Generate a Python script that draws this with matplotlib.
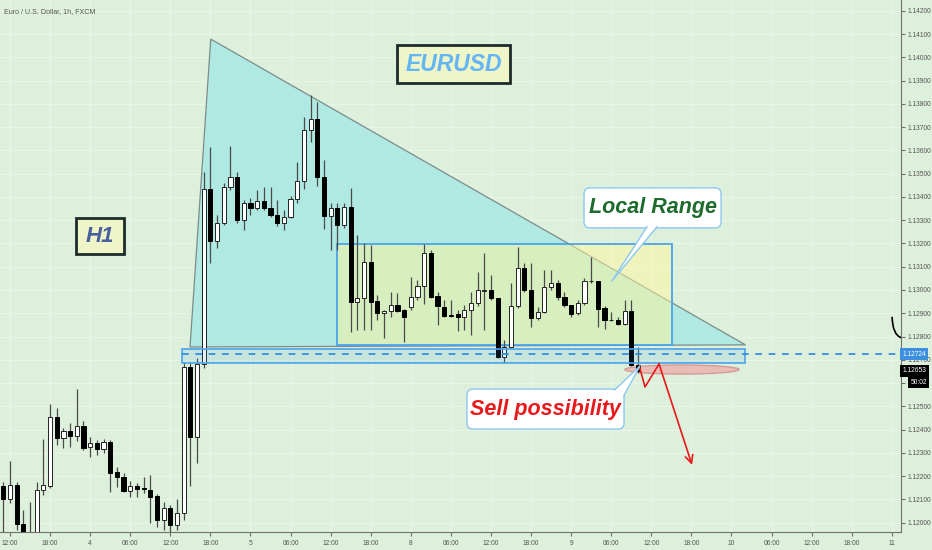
import numpy as np
import matplotlib.pyplot as plt
from matplotlib.patches import Polygon, Rectangle, Ellipse, FancyBboxPatch, PathPatch
from matplotlib.path import Path

plt.rcParams['font.family'] = ['Liberation Sans', 'DejaVu Sans']

# EURUSD 1h candles, first candle is one hour before the "12:00" tick of day 3
start_hour = -1
opens = [1.12157, 1.12101, 1.12161, 1.11994, 1.11870, 1.11920, 1.12140, 1.12157, 1.12454, 1.12363,
         1.12394, 1.12372, 1.12415, 1.12325, 1.12342, 1.12316, 1.12346, 1.12217, 1.12196, 1.12136,
         1.12157, 1.12149, 1.12140, 1.12114, 1.12011, 1.12063, 1.11990, 1.12041, 1.12669, 1.12368,
         1.12682, 1.13434, 1.13211, 1.13288, 1.13443, 1.13486, 1.13301, 1.13374, 1.13353, 1.13383,
         1.13353, 1.13322, 1.13288, 1.13314, 1.13391, 1.13469, 1.13688, 1.13735, 1.13486, 1.13318,
         1.13353, 1.13280, 1.13357, 1.12948, 1.12966, 1.13121, 1.12953, 1.12901, 1.12910, 1.12936,
         1.12914, 1.12927, 1.12970, 1.13017, 1.13159, 1.12974, 1.12927, 1.12892, 1.12897, 1.12884,
         1.12914, 1.12944, 1.12996, 1.13000, 1.12966, 1.12712, 1.12755, 1.12931, 1.13095, 1.13000,
         1.12880, 1.12906, 1.13013, 1.13030, 1.12970, 1.12936, 1.12901, 1.12944, 1.13039, 1.13039,
         1.12923, 1.12871, 1.12871, 1.12854, 1.12910, 1.12677]
highs = [1.12174, 1.12265, 1.12174, 1.12054, 1.12088, 1.12174, 1.12359, 1.12510, 1.12493, 1.12406,
         1.12428, 1.12574, 1.12437, 1.12368, 1.12355, 1.12359, 1.12355, 1.12239, 1.12213, 1.12178,
         1.12170, 1.12196, 1.12204, 1.12123, 1.12088, 1.12075, 1.12101, 1.12691, 1.12691, 1.12708,
         1.13507, 1.13615, 1.13322, 1.13460, 1.13619, 1.13507, 1.13387, 1.13396, 1.13430, 1.13443,
         1.13443, 1.13387, 1.13344, 1.13404, 1.13550, 1.13744, 1.13838, 1.13808, 1.13559, 1.13374,
         1.13374, 1.13374, 1.13439, 1.13237, 1.13202, 1.13194, 1.12979, 1.12914, 1.12991, 1.12987,
         1.12918, 1.13056, 1.13043, 1.13198, 1.13170, 1.12991, 1.12957, 1.12957, 1.12914, 1.12936,
         1.12991, 1.13077, 1.13159, 1.13064, 1.12966, 1.12785, 1.13030, 1.13185, 1.13116, 1.13116,
         1.12927, 1.13086, 1.13086, 1.13043, 1.12991, 1.12936, 1.12957, 1.13052, 1.13142, 1.13039,
         1.12931, 1.12906, 1.12884, 1.12957, 1.12957, 1.12755]
lows = [1.11947, 1.12084, 1.11968, 1.11880, 1.11850, 1.11900, 1.12118, 1.12149, 1.12334, 1.12321,
        1.12325, 1.12351, 1.12312, 1.12282, 1.12291, 1.12299, 1.12131, 1.12153, 1.12131, 1.12110,
        1.12110, 1.12127, 1.12000, 1.11981, 1.11968, 1.11947, 1.11968, 1.12011, 1.12157, 1.12256,
        1.12665, 1.13116, 1.13181, 1.13280, 1.13430, 1.13288, 1.13258, 1.13322, 1.13344, 1.13344,
        1.13314, 1.13275, 1.13258, 1.13310, 1.13374, 1.13434, 1.13636, 1.13447, 1.13262, 1.13172,
        1.13172, 1.13267, 1.12819, 1.12828, 1.12828, 1.12828, 1.12870, 1.12794, 1.12884, 1.12906,
        1.12776, 1.12914, 1.12957, 1.12940, 1.12966, 1.12849, 1.12884, 1.12884, 1.12824, 1.12828,
        1.12807, 1.12931, 1.12828, 1.12957, 1.12708, 1.12686, 1.12751, 1.12923, 1.12991, 1.12841,
        1.12871, 1.12901, 1.13000, 1.12957, 1.12927, 1.12884, 1.12892, 1.12936, 1.13030, 1.12841,
        1.12832, 1.12866, 1.12849, 1.12849, 1.12673, 1.12645]
closes = [1.12101, 1.12161, 1.11994, 1.11903, 1.11940, 1.12140, 1.12161, 1.12454, 1.12363, 1.12394,
          1.12372, 1.12415, 1.12321, 1.12342, 1.12316, 1.12346, 1.12213, 1.12196, 1.12136, 1.12157,
          1.12144, 1.12144, 1.12110, 1.12011, 1.12063, 1.11990, 1.12041, 1.12669, 1.12368, 1.12682,
          1.13434, 1.13211, 1.13288, 1.13443, 1.13486, 1.13301, 1.13374, 1.13353, 1.13383, 1.13353,
          1.13322, 1.13288, 1.13314, 1.13391, 1.13469, 1.13688, 1.13735, 1.13486, 1.13318, 1.13353,
          1.13280, 1.13357, 1.12948, 1.12966, 1.13121, 1.12948, 1.12901, 1.12910, 1.12936, 1.12910,
          1.12884, 1.12970, 1.13017, 1.13159, 1.12970, 1.12931, 1.12888, 1.12888, 1.12884, 1.12914,
          1.12944, 1.13000, 1.13000, 1.12966, 1.12712, 1.12755, 1.12931, 1.13095, 1.13000, 1.12880,
          1.12906, 1.13013, 1.13030, 1.12970, 1.12936, 1.12897, 1.12944, 1.13039, 1.13039, 1.12918,
          1.12871, 1.12871, 1.12854, 1.12910, 1.12677, 1.12653]

tick_hours = list(range(0, 133, 6))
tick_labels = ['12:00', '18:00', '4', '06:00', '12:00', '18:00', '5', '06:00', '12:00', '18:00',
               '8', '06:00', '12:00', '18:00', '9', '06:00', '12:00', '18:00', '10', '06:00',
               '12:00', '18:00', '11']
price_ticks = [1.120 + 0.001 * i for i in range(23)]

# drawings (hour, price)
triangle = [(26.95, 1.12755), (30.05, 1.14079), (110.1, 1.12764)]
range_box = (48.95, 1.12764, 99.1, 1.13198)
support_box = (25.75, 1.12686, 110.1, 1.12746)
support_level = 1.12724
current_price = 1.12653
red_path_h = [94.2, 95.06, 97.16]
red_path_p = [1.12673, 1.12583, 1.12682]
arrow_end = (102.1, 1.12248)
oval = (100.6, 1.12658, 17.1, 0.00039)

bg = '#ddf0db'
fig = plt.figure(figsize=(9.32, 5.5), dpi=100, facecolor=bg)
ax = fig.add_axes([0, 18 / 550, 901 / 932, 532 / 550], facecolor=bg)
ax.set_xlim(-1.497, 133.38)
ax.set_ylim(1.119594, 1.14247)

ax.grid(color='#e9f6e7', lw=0.9, zorder=0)
ax.set_axisbelow(True)

ax.add_patch(Polygon(triangle, closed=True, fc='#b0e8e2', ec='#7d8c8a', lw=0.9, zorder=1))
x0, y0, x1, y1 = range_box
ax.add_patch(Rectangle((x0, y0), x1 - x0, y1 - y0, fc='#fff59d', alpha=0.5, ec='none', zorder=1.2))
ax.add_patch(Rectangle((x0, y0), x1 - x0, y1 - y0, fc='none', ec='#4aa3ee', lw=1.3, zorder=1.3))
ax.add_patch(Ellipse(oval[:2], oval[2], oval[3], fc='#e9bdb6', ec='#d39a98', lw=1, zorder=1.4))

# candles
x = np.arange(len(opens)) + start_hour
o, h, l, c = map(np.array, (opens, highs, lows, closes))
up = c >= o
ax.vlines(x, l, h, color='#4a4a4a', lw=0.9, zorder=2)
bottom = np.minimum(o, c)
height = np.maximum(np.abs(c - o), 0.000015)
ax.bar(x[up], height[up], bottom=bottom[up], width=0.62, color='white', edgecolor='#222222', lw=0.7, zorder=3)
ax.bar(x[~up], height[~up], bottom=bottom[~up], width=0.62, color='black', edgecolor='black', lw=0.7, zorder=3)

sx0, sy0, sx1, sy1 = support_box
ax.add_patch(Rectangle((sx0, sy0), sx1 - sx0, sy1 - sy0, fc=(0.13, 0.59, 0.95, 0.12), ec='#4aa3ee', lw=1.2, zorder=4))
ax.plot([sx0, 133.38], [support_level] * 2, color='#2a86e0', lw=1.2, dashes=(4, 4), zorder=4, clip_on=False)

red = '#e8191c'
ax.plot(red_path_h, red_path_p, color=red, lw=1.2, zorder=5)
ax.annotate('', xy=arrow_end, xytext=(red_path_h[-1], red_path_p[-1]),
            arrowprops=dict(arrowstyle='->', color=red, lw=1.2, mutation_scale=14, shrinkA=0, shrinkB=0), zorder=5)

# small arc near price scale
arc = Path([(132.05, 1.12885), (132.1, 1.12808), (133.4, 1.12795)], [Path.MOVETO, Path.CURVE3, Path.CURVE3])
ax.add_patch(PathPatch(arc, fc='none', ec='black', lw=1.2, zorder=5, clip_on=False))

fnt = dict(fontweight='bold', fontstyle='italic', ha='center', va='center', zorder=7)

# plain boxes
ax.add_patch(Rectangle((57.93, 1.13890), 16.92, 0.00163, fc='#eef5c8', ec='#1c2b2b', lw=2, zorder=6))
ax.text(66.4, 1.13970, 'EURUSD', color='#64b5f6', fontsize=16.5, **fnt)
ax.add_patch(Rectangle((9.88, 1.13155), 7.19, 0.00155, fc='#eef5c8', ec='#1c2b2b', lw=2, zorder=6))
ax.text(13.5, 1.13232, 'H1', color='#4a5f9e', fontsize=16, **fnt)

# callouts
asp = 0.000043 / 0.1497


def callout(xa, ya, xb, yb, base, tip, text, color):
    ax.add_patch(FancyBboxPatch((xa, ya), xb - xa, yb - ya, boxstyle='round,pad=0,rounding_size=0.9',
                                mutation_aspect=asp, fc='white', ec='#8cc8f2', lw=1, zorder=6))
    ax.add_patch(Polygon([base[0], base[1], tip], closed=True, fc='white', ec='none', zorder=6.1))
    ax.plot([base[0][0], tip[0], base[1][0]], [base[0][1], tip[1], base[1][1]], color='#8cc8f2', lw=1, zorder=6.2)
    ax.text((xa + xb) / 2, (ya + yb) / 2, text, color=color, fontsize=15.5, **fnt)


callout(85.93, 1.13267, 106.44, 1.13439, [(95.36, 1.13272), (96.86, 1.13272)], (90.12, 1.13039),
        'Local Range', '#1e6b2e')
callout(68.41, 1.12402, 91.92, 1.12574, [(90.5, 1.12570), (91.88, 1.12545)], (94.3, 1.12673),
        'Sell possibility', red)

# axes styling
ax.set_xticks(tick_hours)
ax.set_xticklabels(tick_labels)
ax.set_yticks(price_ticks)
# the 1.12600 label sits under the countdown box, as on the chart
ax.set_yticklabels(['' if abs(p - 1.126) < 1e-6 else '%.5f' % p for p in price_ticks])
ax.yaxis.tick_right()
for s in ('left', 'top'):
    ax.spines[s].set_visible(False)
for s in ('right', 'bottom'):
    ax.spines[s].set_color('#707070')
ax.tick_params(axis='both', length=3, color='#707070', labelcolor='#555555', labelsize=4.8, pad=2)
ax.tick_params(axis='x', pad=3)

ax.text(0.004, 0.978, 'Euro / U.S. Dollar, 1h, FXCM', transform=ax.transAxes, fontsize=5.1,
        color='#555555', ha='left', va='center')

ytr = ax.get_yaxis_transform()
ax.text(1.0015, support_level, '%.5f' % support_level, transform=ytr, fontsize=4.8, color='white',
        ha='left', va='center', clip_on=False, zorder=8,
        bbox=dict(boxstyle='square,pad=0.35', fc='#3d8fe0', ec='none'))
ax.text(1.0015, current_price, '%.5f' % current_price, transform=ytr, fontsize=4.8, color='white',
        ha='left', va='center', clip_on=False, zorder=8,
        bbox=dict(boxstyle='square,pad=0.35', fc='black', ec='none'))
ax.text(1.0105, current_price - 0.00051, '50:02', transform=ytr, fontsize=4.8, color='white',
        ha='left', va='center', clip_on=False, zorder=8,
        bbox=dict(boxstyle='square,pad=0.35', fc='black', ec='none'))

fig.savefig('out.png', dpi=100, facecolor=bg)
